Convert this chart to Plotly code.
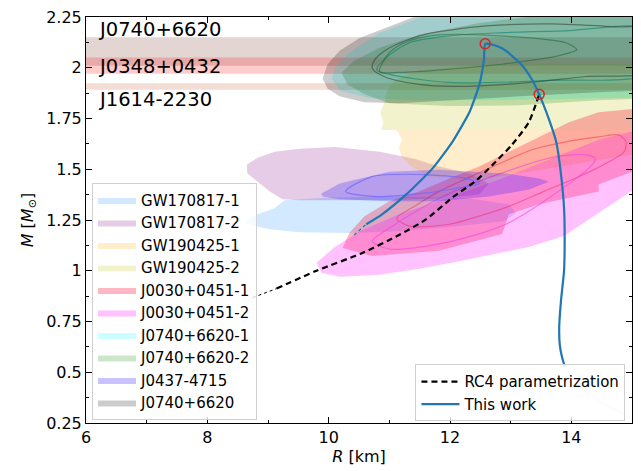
import plotly.graph_objects as go

FONT = "DejaVu Sans"

# ---------------------------------------------------------------------------
# Pulsar mass measurements drawn as horizontal bands (mean, 1-sigma)
# ---------------------------------------------------------------------------
band_names = ["J0740+6620", "J0348+0432", "J1614-2230"]
band_mass = [2.08, 2.01, 1.908]
band_err = [0.07, 0.04, 0.016]
band_colors = ["rgba(140,86,75,0.25)", "rgba(255,0,0,0.2)", "rgba(200,100,60,0.22)"]
label_r = [6.17, 6.17, 6.17]
label_m = [2.187, 2.006, 1.845]

# ---------------------------------------------------------------------------
# Credible-region outlines in the M-R plane: radius [km], mass [Msun]
# ---------------------------------------------------------------------------
gw170817_1_r = [8.62, 8.78, 9.11, 9.27, 10.01, 11.16, 12.32, 12.97, 13.09, 12.89, 11.99, 11.16, 10.34, 9.52, 9.03, 8.70]
gw170817_1_m = [1.239, 1.273, 1.308, 1.347, 1.361, 1.366, 1.356, 1.327, 1.283, 1.244, 1.215, 1.195, 1.186, 1.190, 1.205, 1.225]

gw170817_2_r = [8.65, 8.83, 9.11, 9.52, 10.10, 10.84, 11.41, 11.82, 12.32, 12.64, 12.48, 11.82, 10.84, 9.52, 9.24, 9.03, 8.83, 8.66]
gw170817_2_m = [1.522, 1.557, 1.586, 1.601, 1.610, 1.586, 1.552, 1.513, 1.479, 1.430, 1.376, 1.356, 1.347, 1.347, 1.352, 1.391, 1.439, 1.479]

gw190425_1_r = [11.12, 15.3, 15.3, 13.80, 12.81, 12.15, 11.66, 11.36, 11.20, 11.16, 11.21]
gw190425_1_m = [1.693, 1.693, 1.586, 1.513, 1.464, 1.449, 1.464, 1.513, 1.562, 1.610, 1.645]

gw190425_2_r = [11.08, 10.97, 10.92, 10.85, 10.90, 10.87, 15.3, 15.3, 13.80, 12.48, 11.49]
gw190425_2_m = [1.938, 1.889, 1.830, 1.781, 1.732, 1.693, 1.693, 2.016, 2.025, 2.016, 1.986]

j0030_1_r = [10.23, 10.72, 11.82, 12.86, 12.97, 13.47, 14.45, 14.45, 15.3, 15.3, 14.45, 13.96, 13.47, 12.97, 12.48, 11.99, 11.49, 11.00, 10.59, 10.34]
j0030_1_m = [1.112, 1.073, 1.098, 1.181, 1.278, 1.327, 1.391, 1.425, 1.522, 1.806, 1.781, 1.732, 1.659, 1.586, 1.513, 1.454, 1.391, 1.342, 1.269, 1.186]
j0030_1_in_r = [11.12, 11.33, 11.99, 12.48, 12.97, 13.55, 14.13, 14.62, 14.87, 14.90, 14.78, 14.45, 13.91, 13.35, 12.81, 12.27, 11.82, 11.41, 11.12]
j0030_1_in_m = [1.259, 1.220, 1.229, 1.269, 1.317, 1.391, 1.464, 1.537, 1.586, 1.635, 1.669, 1.659, 1.635, 1.596, 1.527, 1.454, 1.391, 1.317, 1.259]

j0030_2_r = [9.80, 9.88, 10.18, 10.84, 11.49, 12.20, 12.81, 13.30, 13.88, 14.40, 14.98, 15.3, 15.3, 14.45, 13.63, 12.81, 11.99, 11.16, 10.51, 10.10]
j0030_2_m = [1.039, 0.990, 0.971, 0.980, 1.010, 1.049, 1.088, 1.117, 1.171, 1.273, 1.391, 1.391, 1.708, 1.645, 1.547, 1.449, 1.361, 1.278, 1.195, 1.117]
j0030_2_in_r = [10.72, 11.00, 11.82, 12.92, 14.01, 14.34, 14.40, 14.24, 13.75, 12.92, 11.82, 11.00, 10.72]
j0030_2_in_m = [1.146, 1.107, 1.132, 1.229, 1.439, 1.522, 1.552, 1.571, 1.562, 1.488, 1.356, 1.210, 1.146]

j0740_1_r = [10.05, 10.18, 10.67, 11.49, 12.81, 14.13, 15.3, 15.3, 12.81, 11.49, 10.84, 10.34, 10.11]
j0740_1_m = [1.947, 1.889, 1.850, 1.840, 1.840, 1.850, 1.854, 2.367, 2.318, 2.245, 2.172, 2.074, 2.001]
j0740_1_in_r = [10.79, 10.95, 11.33, 11.99, 12.81, 13.91, 15.3, 15.3, 13.63, 11.99, 11.00, 10.79]
j0740_1_in_m = [1.991, 2.050, 2.123, 2.157, 2.172, 2.182, 2.187, 1.977, 1.938, 1.928, 1.967, 1.991]

j0740_2_r = [10.21, 10.31, 10.59, 11.00, 11.99, 13.14, 14.45, 15.3, 15.3, 13.80, 12.48, 11.49, 10.84, 10.42]
j0740_2_m = [1.977, 1.918, 1.869, 1.825, 1.811, 1.815, 1.840, 1.850, 2.294, 2.270, 2.221, 2.162, 2.099, 2.035]
j0740_2_in_r = [10.84, 11.00, 11.33, 11.82, 12.81, 13.91, 14.09, 13.80, 12.81, 11.71, 11.16, 10.84]
j0740_2_in_m = [1.981, 2.074, 2.133, 2.162, 2.157, 2.123, 2.089, 2.060, 2.016, 1.986, 1.977, 1.981]

j0437_r = [9.88, 10.18, 11.00, 11.82, 12.92, 13.47, 13.63, 13.30, 12.64, 11.82, 11.00, 10.18, 9.90]
j0437_m = [1.381, 1.430, 1.488, 1.498, 1.479, 1.454, 1.439, 1.400, 1.366, 1.342, 1.342, 1.352, 1.366]
j0437_in_r = [10.28, 10.72, 11.54, 12.27, 12.48, 12.27, 11.54, 10.72, 10.28]
j0437_in_m = [1.391, 1.464, 1.474, 1.454, 1.430, 1.415, 1.381, 1.366, 1.391]

j0740_r = [9.90, 9.98, 10.18, 10.59, 11.16, 11.99, 13.14, 14.45, 15.3, 15.3, 12.32, 11.49, 10.92, 10.51, 10.18, 9.98]
j0740_m = [1.947, 1.898, 1.859, 1.830, 1.825, 1.840, 1.859, 1.879, 1.889, 2.416, 2.343, 2.260, 2.196, 2.147, 2.084, 2.016]
j0740_in_r = [10.72, 10.95, 11.49, 12.04, 13.14, 14.24, 15.3, 15.3, 14.78, 13.68, 12.60, 12.04, 11.49, 10.95, 10.75, 10.72]
j0740_in_m = [1.996, 1.952, 1.918, 1.908, 1.923, 1.957, 1.986, 2.192, 2.201, 2.216, 2.206, 2.187, 2.157, 2.089, 2.035, 1.996]

# ---------------------------------------------------------------------------
# Mass-radius relations
# ---------------------------------------------------------------------------
rc4_r = [9.14, 9.80, 10.56, 11.16, 11.61, 12.04, 12.43, 12.69, 13.02, 13.30, 13.47]
rc4_m = [0.912, 1.000, 1.088, 1.176, 1.254, 1.361, 1.444, 1.518, 1.620, 1.732, 1.869]
rc4_tail_r = [8.75, 9.14]
rc4_tail_m = [0.868, 0.912]

work_r = [10.62, 10.88, 11.28, 11.71, 12.04, 12.32, 12.48, 12.56, 12.58, 12.76, 12.92, 13.19, 13.35, 13.47,
          13.63, 13.75, 13.83, 13.88, 13.89, 13.88, 13.83, 13.80, 13.81, 13.85, 13.89]
work_m = [1.229, 1.278, 1.376, 1.503, 1.635, 1.781, 1.913, 2.040, 2.118, 2.108, 2.084, 2.011, 1.942, 1.869,
          1.747, 1.635, 1.474, 1.308, 1.146, 1.000, 0.853, 0.722, 0.634, 0.570, 0.531]
work_head_r = [10.42, 10.62]
work_head_m = [1.176, 1.229]
work_tail_r = [13.89, 14.13, 14.50, 14.87]
work_tail_m = [0.531, 0.429, 0.351, 0.292]

# marked configurations (maximum mass, RC4 junction)
mark_r = [12.58, 13.47]
mark_m = [2.118, 1.869]

# ---------------------------------------------------------------------------
regions = [
    ("GW170817-1", gw170817_1_r, gw170817_1_m, "rgba(30,144,255,0.2)", None, None, None),
    ("GW170817-2", gw170817_2_r, gw170817_2_m, "rgba(128,0,128,0.2)", None, None, None),
    ("GW190425-1", gw190425_1_r, gw190425_1_m, "rgba(255,165,0,0.2)", None, None, None),
    ("GW190425-2", gw190425_2_r, gw190425_2_m, "rgba(191,191,0,0.2)", None, None, None),
    ("J0030+0451-1", j0030_1_r, j0030_1_m, "rgba(255,0,40,0.28)", j0030_1_in_r, j0030_1_in_m, "rgba(230,40,60,0.45)"),
    ("J0030+0451-2", j0030_2_r, j0030_2_m, "rgba(255,0,255,0.24)", j0030_2_in_r, j0030_2_in_m, "rgba(240,60,220,0.55)"),
    ("J0740+6620-1", j0740_1_r, j0740_1_m, "rgba(0,255,255,0.2)", j0740_1_in_r, j0740_1_in_m, "rgba(20,170,170,0.6)"),
    ("J0740+6620-2", j0740_2_r, j0740_2_m, "rgba(0,128,0,0.2)", j0740_2_in_r, j0740_2_in_m, "rgba(40,130,60,0.55)"),
    ("J0437-4715", j0437_r, j0437_m, "rgba(40,20,255,0.25)", j0437_in_r, j0437_in_m, "rgba(110,100,255,0.7)"),
    ("J0740+6620", j0740_r, j0740_m, "rgba(0,0,0,0.2)", j0740_in_r, j0740_in_m, "rgba(50,70,60,0.6)"),
]

fig = go.Figure()

for i, (name, r, m, col, ri, mi, lcol) in enumerate(regions):
    fig.add_trace(go.Scatter(
        x=r + r[:1], y=m + m[:1], mode="lines", fill="toself", fillcolor=col,
        line=dict(width=0, color=col), name=name, legendgroup=name,
        hoverinfo="skip", legend="legend",
    ))
    if ri is not None:
        fig.add_trace(go.Scatter(
            x=ri, y=mi, mode="lines", line=dict(width=1.2, color=lcol, shape="spline", smoothing=0.8),
            showlegend=False, hoverinfo="skip",
        ))

# RC4 parametrization
fig.add_trace(go.Scatter(
    x=rc4_tail_r, y=rc4_tail_m, mode="lines", line=dict(color="black", width=1, dash="dot"),
    showlegend=False, hoverinfo="skip",
))
fig.add_trace(go.Scatter(
    x=rc4_r, y=rc4_m, mode="lines", line=dict(color="black", width=2.2, dash="6px,4px", shape="spline", smoothing=0.6),
    name="RC4 parametrization", legend="legend2",
))

# This work
fig.add_trace(go.Scatter(
    x=work_head_r, y=work_head_m, mode="lines", line=dict(color="#1f77b4", width=1.2, dash="dot"),
    showlegend=False, hoverinfo="skip",
))
fig.add_trace(go.Scatter(
    x=work_tail_r, y=work_tail_m, mode="lines", line=dict(color="rgba(31,119,180,0.15)", width=1.5, shape="spline"),
    showlegend=False, hoverinfo="skip",
))
fig.add_trace(go.Scatter(
    x=work_r, y=work_m, mode="lines", line=dict(color="#1f77b4", width=2.2, shape="spline", smoothing=0.5),
    name="This work", legend="legend2",
))

fig.add_trace(go.Scatter(
    x=mark_r, y=mark_m, mode="markers",
    marker=dict(size=10, color="rgba(0,0,0,0)", line=dict(color="#d62728", width=1.5)),
    showlegend=False, hoverinfo="skip",
))

# Horizontal bands for the pulsar masses
shapes = []
for mc, err, col in zip(band_mass, band_err, band_colors):
    shapes.append(dict(type="rect", xref="paper", x0=0, x1=1, yref="y", y0=mc - err, y1=mc + err,
                       fillcolor=col, line=dict(width=0), layer="below"))

annotations = []
for nm, rr, mm in zip(band_names, label_r, label_m):
    annotations.append(dict(x=rr, y=mm, text=nm, showarrow=False, xanchor="left", yanchor="middle",
                            font=dict(family=FONT, size=19.5, color="black")))

axis_common = dict(
    showgrid=False, zeroline=False, showline=True, linecolor="black", linewidth=1,
    mirror="allticks", ticks="inside", ticklen=6, tickwidth=1, tickcolor="black",
    tickfont=dict(family=FONT, size=16, color="black"),
)

fig.update_layout(
    width=641, height=471,
    margin=dict(l=86, r=8, t=14, b=48),
    plot_bgcolor="white", paper_bgcolor="white",
    font=dict(family=FONT, size=16, color="black"),
    shapes=shapes, annotations=annotations,
    xaxis=dict(range=[6, 15], tick0=6, dtick=2,
               minor=dict(dtick=1, ticks="inside", ticklen=3, tickcolor="black"),
               title=dict(text="<i>R</i> [km]", font=dict(family=FONT, size=16), standoff=4),
               **axis_common),
    yaxis=dict(range=[0.25, 2.25], tick0=0.25, dtick=0.25,
               minor=dict(dtick=0.125, ticks="inside", ticklen=3, tickcolor="black"),
               title=dict(text="<i>M</i> [<i>M</i><sub>⊙</sub>]", font=dict(family=FONT, size=16), standoff=8),
               **axis_common),
    legend=dict(x=0.011, y=0.008, xanchor="left", yanchor="bottom",
                bgcolor="rgba(255,255,255,0.8)", bordercolor="#d0d0d0", borderwidth=1,
                font=dict(family=FONT, size=15), tracegroupgap=0, itemwidth=38),
    legend2=dict(x=0.988, y=0.004, xanchor="right", yanchor="bottom",
                 bgcolor="rgba(255,255,255,0.8)", bordercolor="#d0d0d0", borderwidth=1,
                 font=dict(family=FONT, size=15), itemwidth=38),
)

fig.write_html("out.html")
